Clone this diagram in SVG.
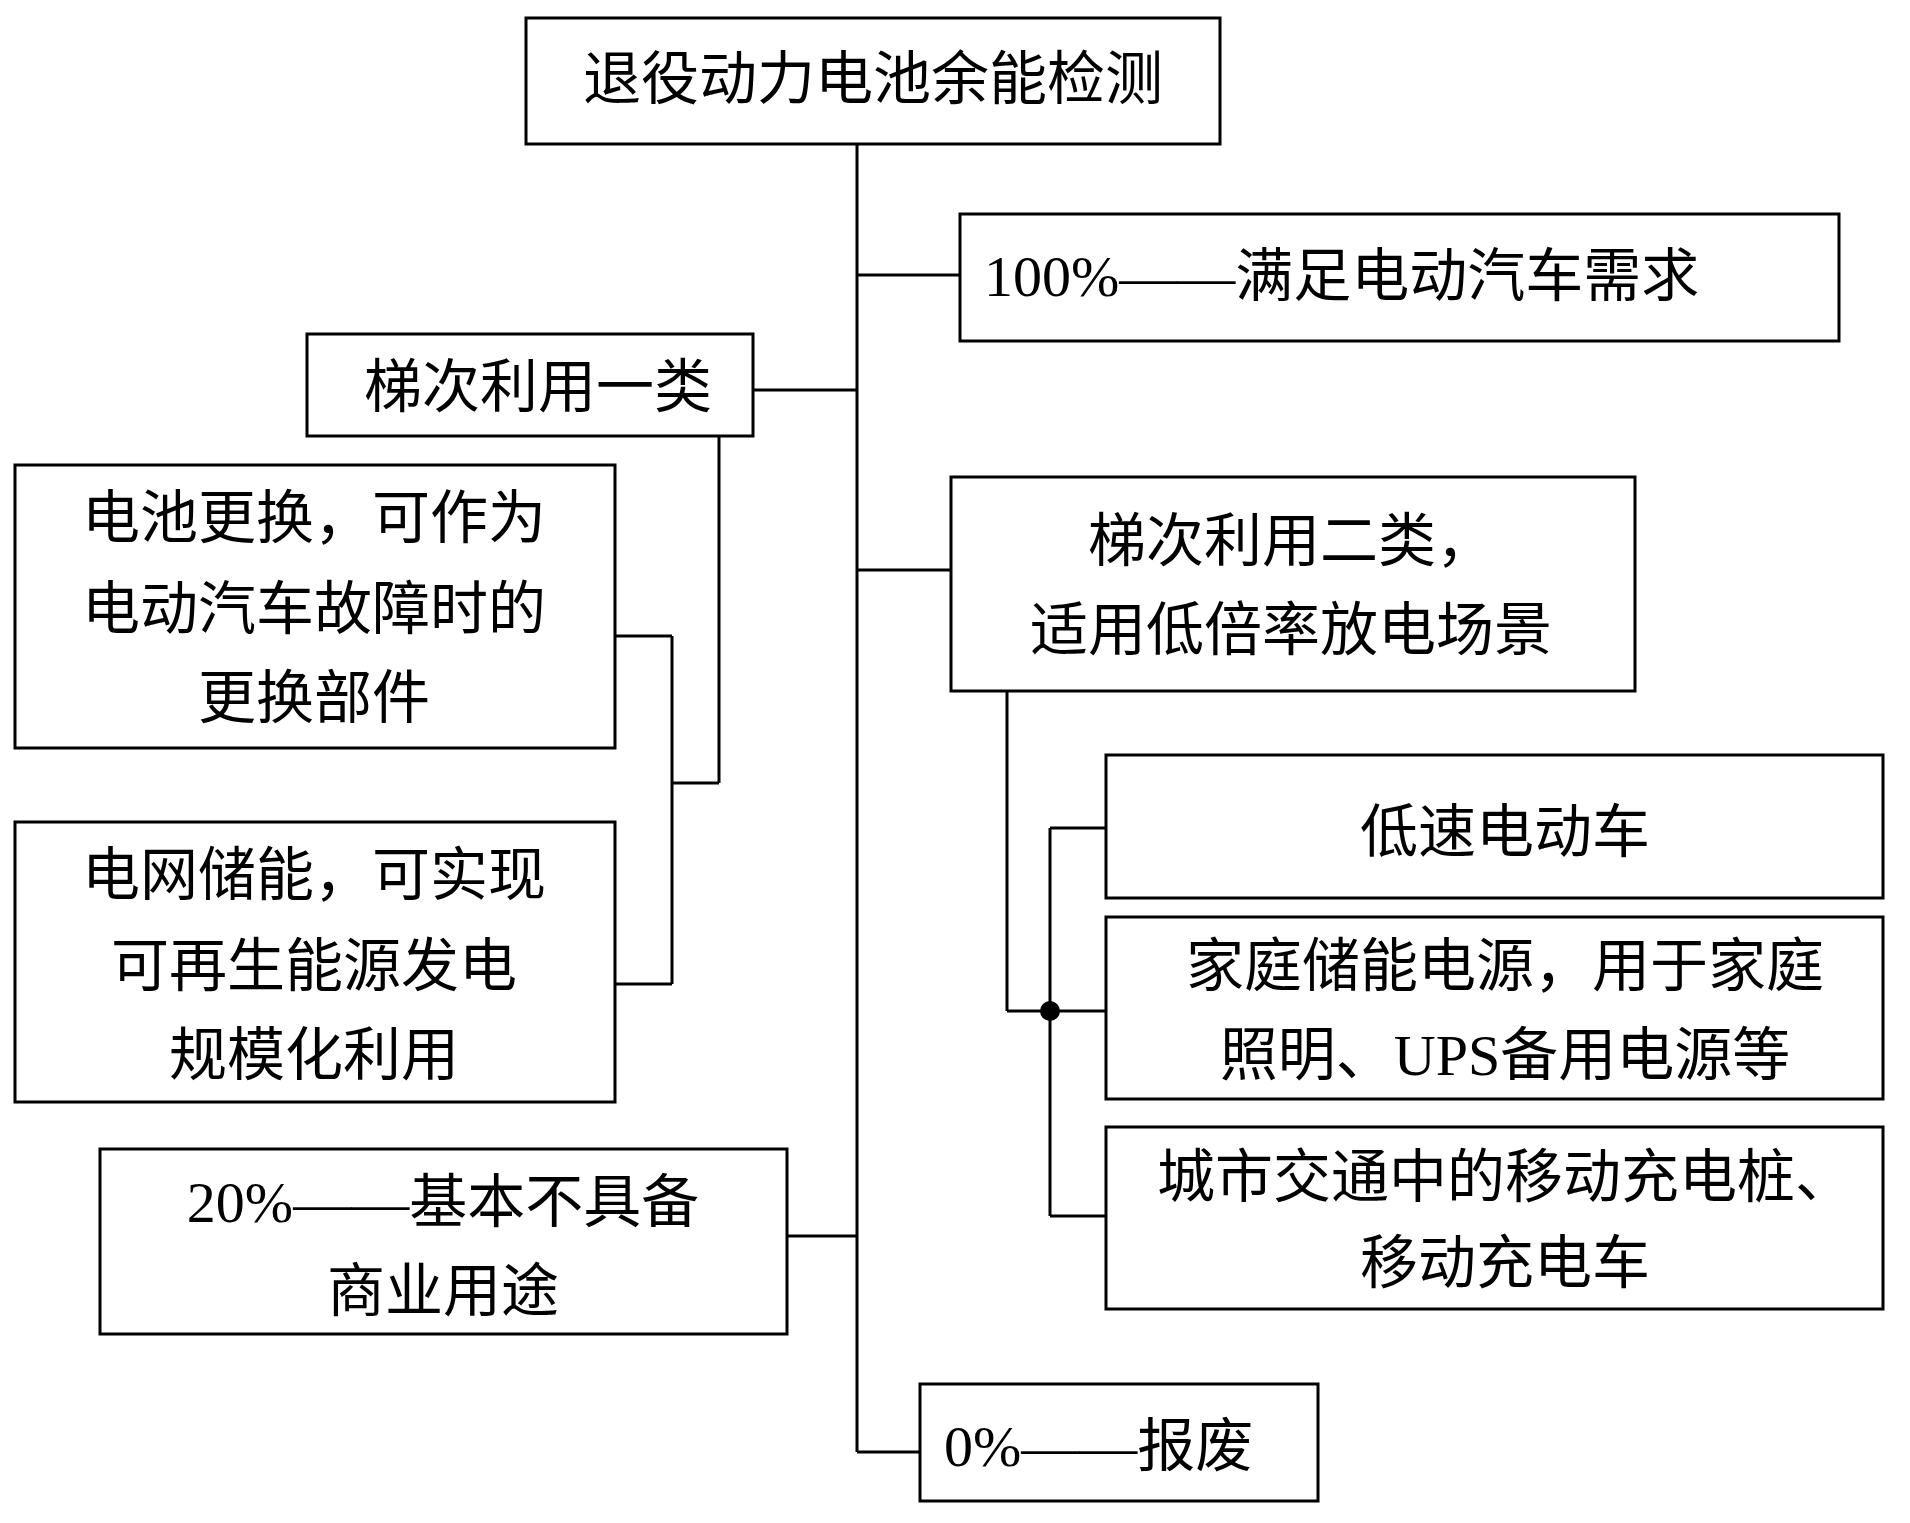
<svg xmlns="http://www.w3.org/2000/svg" width="1910" height="1523" viewBox="0 0 1910 1523">
<style>
rect{fill:#fff;stroke:#000;stroke-width:3}
.c line{stroke:#000;stroke-width:3}
text{font-family:"Liberation Serif","Noto Sans CJK SC",serif;font-size:58px;fill:#000;dominant-baseline:central;text-anchor:middle}
.s{text-anchor:start}
</style>
<rect width="1910" height="1523" style="stroke:none"/>
<g class="c">
<line x1="857" y1="144" x2="857" y2="1452"/>
<line x1="857" y1="275" x2="960" y2="275"/>
<line x1="753" y1="390" x2="857" y2="390"/>
<line x1="719" y1="436" x2="719" y2="783"/>
<line x1="672" y1="783" x2="719" y2="783"/>
<line x1="672" y1="636" x2="672" y2="984"/>
<line x1="615" y1="636" x2="672" y2="636"/>
<line x1="615" y1="984" x2="672" y2="984"/>
<line x1="857" y1="570" x2="951" y2="570"/>
<line x1="787" y1="1236" x2="857" y2="1236"/>
<line x1="857" y1="1452" x2="920" y2="1452"/>
<line x1="1007" y1="691" x2="1007" y2="1011"/>
<line x1="1007" y1="1011" x2="1050" y2="1011"/>
<line x1="1050" y1="828" x2="1050" y2="1216"/>
<line x1="1050" y1="828" x2="1106" y2="828"/>
<line x1="1050" y1="1011" x2="1106" y2="1011"/>
<line x1="1050" y1="1216" x2="1106" y2="1216"/>
<circle cx="1050" cy="1011" r="10" fill="#000"/>
</g>
<g id="root"><rect x="526" y="18" width="694" height="126"/><text x="873" y="79">退役动力电池余能检测</text></g>
<g id="n100"><rect x="960" y="214" width="879" height="127"/><text class="s" x="984" y="276">100%——满足电动汽车需求</text></g>
<g id="t1"><rect x="307" y="334" width="446" height="102"/><text x="538" y="387">梯次利用一类</text></g>
<g id="a"><rect x="15" y="465" width="600" height="283"/><text x="314" y="518">电池更换，可作为</text><text x="314" y="609">电动汽车故障时的</text><text x="314" y="698">更换部件</text></g>
<g id="b"><rect x="15" y="822" width="600" height="280"/><text x="314" y="875">电网储能，可实现</text><text x="314" y="966">可再生能源发电</text><text x="314" y="1055">规模化利用</text></g>
<g id="n20"><rect x="100" y="1149" width="687" height="185"/><text x="443" y="1202">20%——基本不具备</text><text x="443" y="1291">商业用途</text></g>
<g id="t2"><rect x="951" y="477" width="684" height="214"/><text x="1291" y="541">梯次利用二类，</text><text x="1291" y="630">适用低倍率放电场景</text></g>
<g id="c1"><rect x="1106" y="755" width="777" height="143"/><text x="1505" y="832">低速电动车</text></g>
<g id="c2"><rect x="1106" y="917" width="777" height="182"/><text x="1505" y="966">家庭储能电源，用于家庭</text><text x="1505" y="1055">照明、UPS备用电源等</text></g>
<g id="c3"><rect x="1106" y="1127" width="777" height="182"/><text x="1505" y="1177">城市交通中的移动充电桩、</text><text x="1505" y="1263">移动充电车</text></g>
<g id="n0"><rect x="920" y="1384" width="398" height="117"/><text class="s" x="944" y="1446">0%——报废</text></g>
</svg>
